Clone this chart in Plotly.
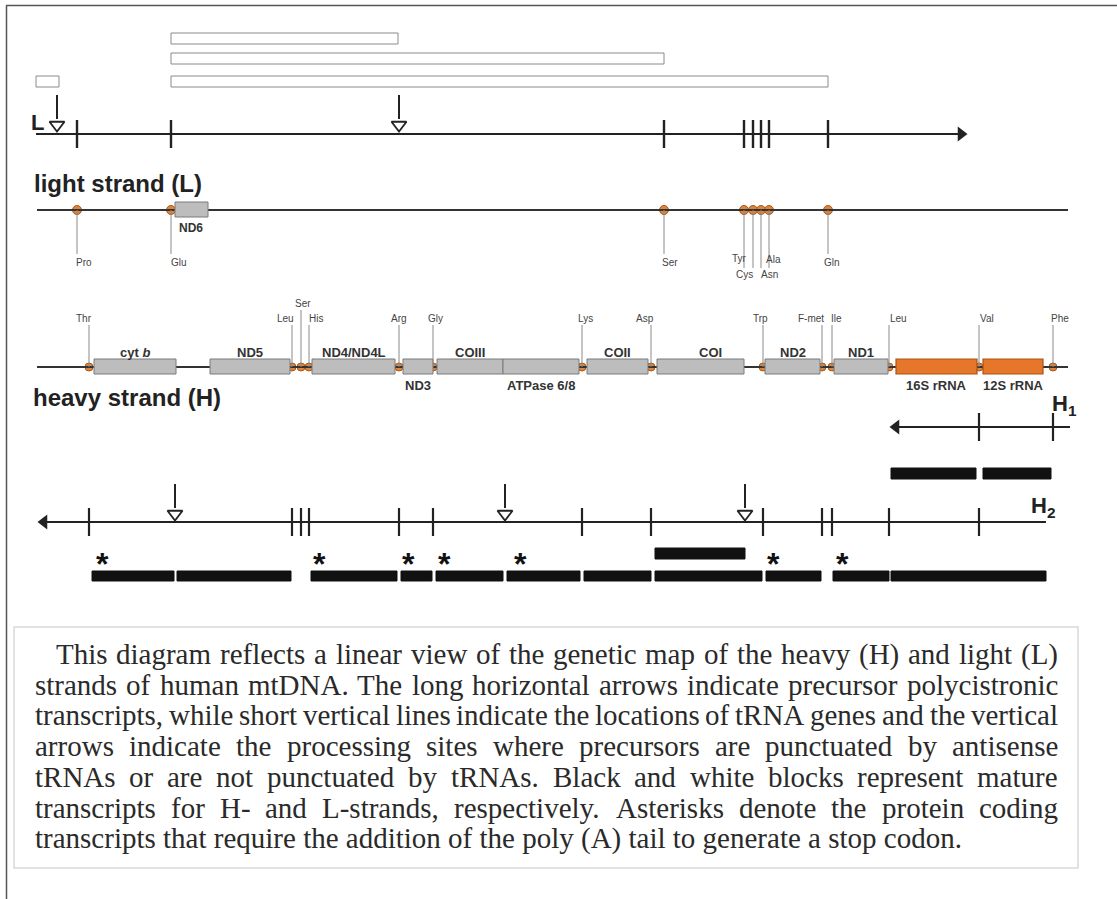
import plotly.graph_objects as go

# ------------------------------------------------------------------ data
# Positions are expressed in diagram map units along the linear mtDNA map.
L_TRNA_NAMES = ["Pro", "Glu", "Ser", "Tyr", "Cys", "Asn", "Ala", "Gln"]
L_TRNA_POS = [77, 171, 664, 744, 753, 761, 769, 828]
L_GENE_NAMES = ["ND6"]
L_GENE_START = [175]
L_GENE_END = [208]
L_PRECURSOR = [36, 967]          # L-strand polycistronic precursor
L_PROCESS_SITES = [57, 399]      # processing sites not punctuated by tRNAs
L_MATURE_START = [171, 171, 171, 36]   # white blocks (L-strand mature transcripts)
L_MATURE_END = [398, 664, 828, 59]
L_MATURE_ROW = [0, 1, 2, 2]

H_GENE_NAMES = ["cyt <i>b</i>", "ND5", "ND4/ND4L", "ND3", "COIII", "ATPase 6/8",
                "COII", "COI", "ND2", "ND1", "16S rRNA", "12S rRNA"]
H_GENE_START = [94, 210, 312, 403, 437, 503, 587, 657, 765, 834, 896, 983]
H_GENE_END = [176, 290, 395, 433, 503, 579, 648, 744, 820, 888, 977, 1043]
H_GENE_KIND = ["protein"] * 10 + ["rRNA", "rRNA"]

H_TRNA_NAMES = ["Thr", "Leu", "Ser", "His", "Arg", "Gly", "Lys", "Asp",
                "Trp", "F-met", "Ile", "Leu", "Val", "Phe"]
H_TRNA_POS = [89, 292, 301, 309, 399, 433, 582, 651, 763, 822, 832, 889, 979, 1053]

H1_PRECURSOR = [890, 1070]
H2_PRECURSOR = [38, 1046]
H2_PROCESS_SITES = [175, 505, 745]
H1_MATURE_START = [891, 983]
H1_MATURE_END = [976, 1051]
H2_MATURE_START = [92, 177, 311, 401, 436, 507, 584, 655, 766, 833, 891]
H2_MATURE_END = [174, 291, 397, 432, 503, 580, 651, 762, 821, 889, 1046]
H2_EXTRA_START = [655]
H2_EXTRA_END = [745]
POLYA_SITES = [102, 319, 408, 444, 520, 773, 842]

CAPTION = [
    "This diagram reflects a linear view of the genetic map of the heavy (H) and light (L)",
    "strands of human mtDNA. The long horizontal arrows indicate precursor polycistronic",
    "transcripts, while short vertical lines indicate the locations of tRNA genes and the vertical",
    "arrows indicate the processing sites where precursors are punctuated by antisense",
    "tRNAs or are not punctuated by tRNAs. Black and white blocks represent mature",
    "transcripts for H- and L-strands, respectively. Asterisks denote the protein coding",
    "transcripts that require the addition of the poly (A) tail to generate a stop codon.",
]

# ------------------------------------------------------------------ layout constants
W, H = 1117, 899
Y_L = 134
ROW_Y = {0: (33, 44), 1: (53, 64), 2: (76, 87)}
Y_LS = 210
Y_HS = 367
Y_H1 = 427
Y_H2 = 522
Y_BARS = (571, 581)
Y_EXTRA = (548, 559)
Y_H1BARS = (468, 479)

ORANGE = "#e0843a"
ORANGE_EDGE = "#a45a1c"
GRAY_BOX = "#bdbdbd"
GRAY_EDGE = "#7a7a7a"
SANS = "Liberation Sans, Arial, sans-serif"
SERIF = "Liberation Serif, Times New Roman, serif"

L_LABEL_STYLE = [("left", -2, 262), ("left", -1, 262), ("left", -3, 262), ("right", 4, 258),
                 ("right", 1, 274), ("left", -1, 274), ("left", -4, 259), ("left", -5, 262)]
H_LABEL_STYLE = [("center", -5, 318), ("right", 3, 318), ("center", 2, 303), ("left", -1, 318),
                 ("center", 0, 318), ("center", 2, 318), ("center", 3, 318), ("center", -6, 318),
                 ("center", -3, 318), ("right", 3, 318), ("left", -2, 318), ("left", 0, 318),
                 ("left", 0, 318), ("left", -3, 318)]
H_GENE_LABEL_BELOW = {"ND3", "ATPase 6/8", "16S rRNA", "12S rRNA"}

shapes = []
annotations = []
fig = go.Figure()


def line(x0, y0, x1, y1, color="#222", width=2.0):
    shapes.append(dict(type="line", x0=x0, y0=y0, x1=x1, y1=y1, xref="x", yref="y",
                       line=dict(color=color, width=width)))


def rect(x0, y0, x1, y1, fill, edge, width=1.0):
    shapes.append(dict(type="rect", x0=x0, y0=y0, x1=x1, y1=y1, xref="x", yref="y",
                       fillcolor=fill, line=dict(color=edge, width=width)))


def text(x, y, s, size, color="#222", family=SANS, xanchor="center", yanchor="middle"):
    annotations.append(dict(x=x, y=y, xref="x", yref="y", text=s, showarrow=False,
                            xanchor=xanchor, yanchor=yanchor, borderpad=0,
                            font=dict(size=size, color=color, family=family)))


# ------------------------------------------------------------------ frame
line(6, 5.5, W, 5.5, color="#555", width=1.5)
line(6.5, 5.5, 6.5, H, color="#555", width=1.5)

# ------------------------------------------------------------------ L-strand transcripts
for s, e, r in zip(L_MATURE_START, L_MATURE_END, L_MATURE_ROW):
    y0, y1 = ROW_Y[r]
    rect(s, y0, e, y1, "white", "#8a8a8a", 1)

line(L_PRECURSOR[0], Y_L, L_PRECURSOR[1] - 6, Y_L, width=2.2)
for p in L_TRNA_POS:
    line(p, Y_L - 14, p, Y_L + 14, width=2.4)
for p in L_PROCESS_SITES:
    line(p, 95, p, 119, width=2)
fig.add_trace(go.Scatter(x=L_PROCESS_SITES, y=[125] * len(L_PROCESS_SITES), mode="markers",
                         marker=dict(symbol="triangle-down", size=13, color="white",
                                     line=dict(color="#222", width=1.8)),
                         hoverinfo="skip", showlegend=False))
fig.add_trace(go.Scatter(x=[L_PRECURSOR[1] - 6], y=[Y_L], mode="markers",
                         marker=dict(symbol="triangle-right", size=13, color="#222"),
                         hoverinfo="skip", showlegend=False))
text(30, 122, "<b>L</b>", 22, xanchor="left")

# ------------------------------------------------------------------ light strand map
text(33, 183, "<b>light strand (L)</b>", 24, xanchor="left")
line(37, Y_LS, 1068, Y_LS, color="#333", width=2)
for name, s, e in zip(L_GENE_NAMES, L_GENE_START, L_GENE_END):
    rect(s, Y_LS - 8, e, Y_LS + 7, GRAY_BOX, GRAY_EDGE, 1)
    text((s + e) / 2 - 1, 228, "<b>" + name + "</b>", 12, color="#333")
for name, p, (xa, dx, ly) in zip(L_TRNA_NAMES, L_TRNA_POS, L_LABEL_STYLE):
    bottom = 268 if ly != 262 else 254
    line(p, Y_LS, p, bottom, color="#8a8a8a", width=1)
    text(p + dx, ly, name, 10, color="#444", xanchor=xa)
fig.add_trace(go.Scatter(x=L_TRNA_POS, y=[Y_LS] * len(L_TRNA_POS), mode="markers",
                         marker=dict(symbol="circle", size=9, color=ORANGE,
                                     line=dict(color=ORANGE_EDGE, width=1)),
                         hoverinfo="skip", showlegend=False))

# ------------------------------------------------------------------ heavy strand map
line(37, Y_HS, 1068, Y_HS, color="#333", width=2)
for name, s, e, kind in zip(H_GENE_NAMES, H_GENE_START, H_GENE_END, H_GENE_KIND):
    if kind == "rRNA":
        rect(s, Y_HS - 8, e, Y_HS + 7, "#e6772a", "#a8541a", 1.2)
    else:
        rect(s, Y_HS - 8, e, Y_HS + 7, GRAY_BOX, GRAY_EDGE, 1)
    below = name in H_GENE_LABEL_BELOW
    cx = (s + e) / 2
    if name == "COI":
        cx += 10
    text(cx, 385 if below else 352, "<b>" + name + "</b>", 13, color="#333")
for name, p, (xa, dx, ly) in zip(H_TRNA_NAMES, H_TRNA_POS, H_LABEL_STYLE):
    line(p, ly + 7, p, Y_HS, color="#8a8a8a", width=1)
    text(p + dx, ly, name, 10, color="#444", xanchor=xa)
fig.add_trace(go.Scatter(x=H_TRNA_POS, y=[Y_HS] * len(H_TRNA_POS), mode="markers",
                         marker=dict(symbol="circle", size=8, color=ORANGE,
                                     line=dict(color=ORANGE_EDGE, width=1)),
                         hoverinfo="skip", showlegend=False))
text(32, 397, "<b>heavy strand (H)</b>", 24, xanchor="left")

# ------------------------------------------------------------------ H1 transcript
line(H1_PRECURSOR[0] + 6, Y_H1, H1_PRECURSOR[1], Y_H1, width=2)
for p in [q for q in H_TRNA_POS if q > H1_PRECURSOR[0]]:
    line(p, Y_H1 - 14, p, Y_H1 + 14, width=2.2)
fig.add_trace(go.Scatter(x=[H1_PRECURSOR[0] + 6], y=[Y_H1], mode="markers",
                         marker=dict(symbol="triangle-left", size=13, color="#222"),
                         hoverinfo="skip", showlegend=False))
text(1051, 405, "<b>H<sub>1</sub></b>", 22, xanchor="left")
for s, e in zip(H1_MATURE_START, H1_MATURE_END):
    rect(s, Y_H1BARS[0], e, Y_H1BARS[1], "#111", "#111", 1)

# ------------------------------------------------------------------ H2 transcript
line(H2_PRECURSOR[0] + 6, Y_H2, H2_PRECURSOR[1], Y_H2, width=2)
for p in [q for q in H_TRNA_POS if q < H2_PRECURSOR[1]]:
    line(p, Y_H2 - 14, p, Y_H2 + 14, width=2.2)
for p in H2_PROCESS_SITES:
    line(p, 484, p, 508, width=2)
fig.add_trace(go.Scatter(x=H2_PROCESS_SITES, y=[514] * len(H2_PROCESS_SITES), mode="markers",
                         marker=dict(symbol="triangle-down", size=13, color="white",
                                     line=dict(color="#222", width=1.8)),
                         hoverinfo="skip", showlegend=False))
fig.add_trace(go.Scatter(x=[H2_PRECURSOR[0] + 6], y=[Y_H2], mode="markers",
                         marker=dict(symbol="triangle-left", size=13, color="#222"),
                         hoverinfo="skip", showlegend=False))
text(1030, 507, "<b>H<sub>2</sub></b>", 22, xanchor="left")
for s, e in zip(H2_MATURE_START, H2_MATURE_END):
    rect(s, Y_BARS[0], e, Y_BARS[1], "#111", "#111", 1)
for s, e in zip(H2_EXTRA_START, H2_EXTRA_END):
    rect(s, Y_EXTRA[0], e, Y_EXTRA[1], "#111", "#111", 1)
for p in POLYA_SITES:
    text(p, 564, "<b>*</b>", 32, color="#111")

# ------------------------------------------------------------------ caption box
rect(14, 627, 1078, 868, "white", "#d9d9d9", 1.5)

TIMES_W = {
    " ": 250, "!": 333, "(": 333, ")": 333, ",": 250, "-": 333, ".": 250, "/": 278,
    "A": 722, "B": 667, "C": 667, "D": 722, "E": 611, "F": 556, "G": 722, "H": 722,
    "I": 333, "J": 389, "K": 722, "L": 611, "M": 889, "N": 722, "O": 722, "P": 556,
    "Q": 722, "R": 667, "S": 556, "T": 611, "U": 722, "V": 722, "W": 944, "X": 722,
    "Y": 722, "Z": 611,
    "a": 444, "b": 500, "c": 444, "d": 500, "e": 444, "f": 333, "g": 500, "h": 500,
    "i": 278, "j": 278, "k": 500, "l": 278, "m": 778, "n": 500, "o": 500, "p": 500,
    "q": 500, "r": 333, "s": 389, "t": 278, "u": 500, "v": 500, "w": 722, "x": 500,
    "y": 500, "z": 444,
}
FS = 29


def tw(s):
    return sum(TIMES_W.get(c, 500) for c in s) / 1000 * FS


LEFT, RIGHT = 34, 1057
for i, ln in enumerate(CAPTION):
    yc = 654 + i * 30.7
    x0 = LEFT + (21 if i == 0 else 0)
    if i == len(CAPTION) - 1:
        text(x0, yc, ln, FS, color="#2a2a2a", family=SERIF, xanchor="left")
        continue
    words = ln.split(" ")
    total = sum(tw(w) for w in words)
    gap = (RIGHT - x0 - total) / (len(words) - 1)
    x = x0
    for w in words:
        text(x, yc, w, FS, color="#2a2a2a", family=SERIF, xanchor="left")
        x += tw(w) + gap

fig.update_layout(
    width=W, height=H, margin=dict(l=0, r=0, t=0, b=0),
    paper_bgcolor="white", plot_bgcolor="white",
    xaxis=dict(range=[0, W], visible=False, fixedrange=True),
    yaxis=dict(range=[H, 0], visible=False, fixedrange=True),
    shapes=shapes, annotations=annotations, showlegend=False,
)
fig.write_html("out.html", config={"displayModeBar": False, "staticPlot": True},
               post_script="document.body.style.margin='0';document.body.style.overflow='hidden';")
